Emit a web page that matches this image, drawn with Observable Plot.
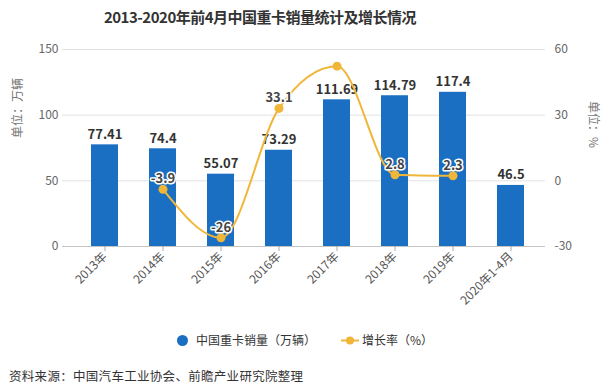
<!DOCTYPE html>
<html><head><meta charset="utf-8">
<script src="https://cdn.jsdelivr.net/npm/d3@7"></script>
<script src="https://cdn.jsdelivr.net/npm/@observablehq/plot@0.6"></script>
<style>
body{margin:0;width:612px;height:392px;background:#fff;font-family:"Noto Sans CJK SC",sans-serif;position:relative;overflow:hidden}
#title{position:absolute;left:103px;top:6px;width:314px;text-align:center;font-size:15px;font-weight:bold;color:#333;white-space:nowrap;letter-spacing:-0.5px}
#chart{position:absolute;left:0;top:35px}
.lg{position:absolute;font-size:12px;color:#333;white-space:nowrap;line-height:16px}
#footer{position:absolute;left:9px;top:366px;font-size:12.5px;color:#333;white-space:nowrap;letter-spacing:0.3px}
</style></head>
<body>
<div id="title">2013-2020年前4月中国重卡销量统计及增长情况</div>
<div id="chart"></div>
<div id="legend"></div>
<div id="footer">资料来源：中国汽车工业协会、前瞻产业研究院整理</div>
<script>
const years = ["2013年","2014年","2015年","2016年","2017年","2018年","2019年","2020年1-4月"];
const sales = [77.41,74.4,55.07,73.29,111.69,114.79,117.4,46.5];
const salesLabels = ["77.41","74.4","55.07","73.29","111.69","114.79","117.4","46.5"];
const growthYears = ["2014年","2015年","2016年","2017年","2018年","2019年"];
const growth = [-3.9,-26,33.1,52.4,2.8,2.3];
const growthLabels = ["-3.9","-26","33.1","","2.8","2.3"];
const leftTicks = [0,50,100,150];
const rightTicks = [-30,0,30,60];
const seriesNames = ["中国重卡销量（万辆）","增长率（%）"];
const leftTitle = "单位：万辆";
const rightTitle = "单位：%";

const blue = "#1b6fc2", gold = "#f0b638";
const rMin = rightTicks[0], rMax = rightTicks[rightTicks.length-1];
const lMax = leftTicks[leftTicks.length-1];
const toLeft = g => (g - rMin) * lMax / (rMax - rMin);
const fromLeft = v => Math.round(v * (rMax - rMin) / lMax + rMin);

const barData = years.map((y,i)=>({year:y, sales:sales[i], label:salesLabels[i]}));
const gData = growthYears.map((y,i)=>({year:y, growth:growth[i], label:growthLabels[i]}));

const chart = Plot.plot({
  width:612, height:290,
  marginLeft:62, marginRight:60, marginTop:14, marginBottom:79,
  style:{fontFamily:'"Noto Sans CJK SC", sans-serif', fontSize:"12px", color:"#555", background:"transparent", overflow:"visible"},
  x:{domain:years, paddingInner:0.54, paddingOuter:0.45},
  y:{domain:[0,lMax]},
  marks:[
    Plot.ruleY(leftTicks.filter(d=>d>0), {stroke:"#e2e2e2", insetRight:7}),
    Plot.ruleY([0], {stroke:"#c4c4c4", insetRight:7}),
    Plot.barY(barData, {x:"year", y:"sales", fill:blue}),
    Plot.text(barData, {x:"year", y:"sales", text:"label", lineAnchor:"bottom", dy:-6, fontWeight:"bold", fontSize:13, fill:"#333"}),
    Plot.line(gData, {x:"year", y:d=>toLeft(d.growth), stroke:gold, strokeWidth:2, curve:"monotone-x"}),
    Plot.dot(gData, {x:"year", y:d=>toLeft(d.growth), r:4.5, fill:gold}),
    Plot.text(gData.filter(d=>d.label!==""), {x:"year", y:d=>toLeft(d.growth), text:"label", lineAnchor:"bottom", dy:-6, fontWeight:"bold", fontSize:13, fill:"#444", stroke:"white", strokeWidth:3}),
    Plot.axisY({anchor:"left", ticks:leftTicks, tickSize:0, tickPadding:4, label:null, fill:"#666", fontSize:12}),
    Plot.axisY({anchor:"right", ticks:leftTicks, tickFormat:v=>String(fromLeft(v)), tickSize:0, tickPadding:2, label:null, fill:"#666", fontSize:12}),
    Plot.axisX({tickRotate:-45, tickSize:5, tickPadding:3, stroke:"#aaa", fill:"#555", label:null, fontSize:12}),
    Plot.text([leftTitle], {frameAnchor:"left", dx:-44, dy:-10, rotate:-90, fill:"#777", fontSize:12}),
    Plot.text([rightTitle], {frameAnchor:"right", dx:40, dy:0, rotate:90, fill:"#777", fontSize:12})
  ]
});
document.getElementById("chart").appendChild(chart);

// legend
const lg = document.getElementById("legend");
lg.innerHTML = `
<svg style="position:absolute;left:176px;top:334px" width="13" height="13"><circle cx="6.5" cy="6.5" r="5.5" fill="${blue}"/></svg>
<div class="lg" style="left:196px;top:332px">${seriesNames[0]}</div>
<svg style="position:absolute;left:340px;top:334px" width="20" height="13"><line x1="1" x2="19" y1="6.5" y2="6.5" stroke="${gold}" stroke-width="2"/><circle cx="10" cy="6.5" r="4" fill="${gold}"/></svg>
<div class="lg" style="left:362px;top:332px">${seriesNames[1]}</div>`;
</script>
</body></html>
